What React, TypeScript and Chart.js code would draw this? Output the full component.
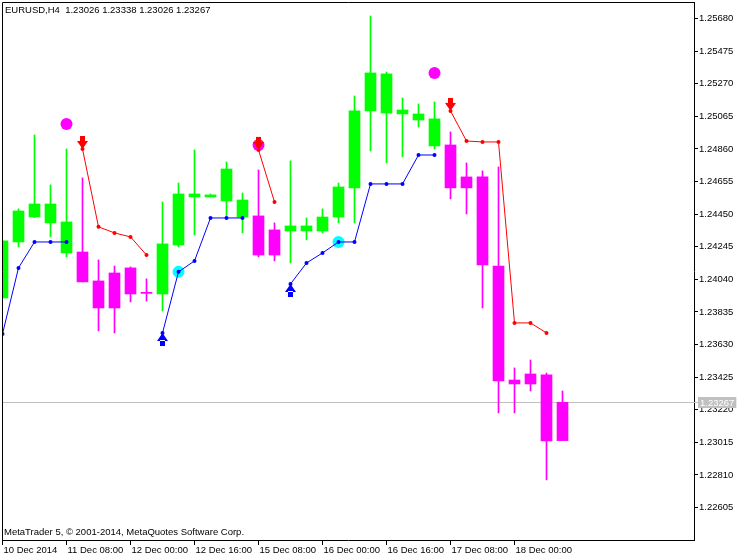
import React, { useEffect, useRef } from 'react';
import { Chart, registerables } from 'chart.js';

Chart.register(...registerables);

// ---------------- data ----------------
const categories = [
  '10 Dec 16:00', '10 Dec 20:00', '11 Dec 00:00', '11 Dec 04:00', '11 Dec 08:00', '11 Dec 12:00',
  '11 Dec 16:00', '11 Dec 20:00', '12 Dec 00:00', '12 Dec 04:00', '12 Dec 08:00', '12 Dec 12:00',
  '12 Dec 16:00', '12 Dec 20:00', '15 Dec 00:00', '15 Dec 04:00', '15 Dec 08:00', '15 Dec 12:00',
  '15 Dec 16:00', '15 Dec 20:00', '16 Dec 00:00', '16 Dec 04:00', '16 Dec 08:00', '16 Dec 12:00',
  '16 Dec 16:00', '16 Dec 20:00', '17 Dec 00:00', '17 Dec 04:00', '17 Dec 08:00', '17 Dec 12:00',
  '17 Dec 16:00', '17 Dec 20:00', '18 Dec 00:00', '18 Dec 04:00', '18 Dec 08:00', '18 Dec 12:00',
];

const opens = [
  1.23923, 1.24275, 1.24432, 1.24395, 1.24206, 1.24212, 1.24030, 1.24080, 1.24112, 1.23956,
  1.23948, 1.24256, 1.24558, 1.24558, 1.24533, 1.24432, 1.24439, 1.24351, 1.24344, 1.24344,
  1.24344, 1.24432, 1.24615, 1.25099, 1.25086, 1.25080, 1.25042, 1.24879, 1.24885, 1.24684,
  1.24684, 1.24124, 1.23407, 1.23445, 1.23439, 1.23026,
];
const highs = [
  1.24282, 1.24483, 1.24948, 1.24634, 1.24860, 1.24678, 1.24162, 1.24124, 1.24118, 1.24043,
  1.24527, 1.24646, 1.24854, 1.24577, 1.24778, 1.24583, 1.24728, 1.24395, 1.24785, 1.24426,
  1.24483, 1.24646, 1.25193, 1.25696, 1.25344, 1.25181, 1.25143, 1.25156, 1.24967, 1.24772,
  1.24722, 1.24747, 1.23483, 1.23533, 1.23451, 1.23338,
];
const lows = [
  1.23923, 1.24244, 1.24428, 1.24307, 1.24181, 1.24024, 1.23716, 1.23703, 1.23898, 1.23904,
  1.23841, 1.24244, 1.24319, 1.24558, 1.24426, 1.24332, 1.24181, 1.24156, 1.24143, 1.24288,
  1.24332, 1.24395, 1.24395, 1.24847, 1.24772, 1.24810, 1.24998, 1.24860, 1.24546, 1.24451,
  1.23860, 1.23200, 1.23200, 1.23338, 1.22779, 1.23026,
];
const closes = [
  1.24282, 1.24470, 1.24514, 1.24514, 1.24401, 1.24024, 1.23860, 1.23860, 1.23948, 1.23952,
  1.24263, 1.24577, 1.24577, 1.24571, 1.24734, 1.24539, 1.24193, 1.24193, 1.24376, 1.24376,
  1.24432, 1.24621, 1.25099, 1.25338, 1.25332, 1.25105, 1.25080, 1.25049, 1.24615, 1.24615,
  1.24131, 1.23401, 1.23382, 1.23382, 1.23024, 1.23267,
];
const trend = [
  'up', 'up', 'up', 'up', 'up', 'down', 'down', 'down', 'down', 'down',
  'up', 'up', 'up', 'up', 'up', 'up', 'down', 'down', 'up', 'up',
  'up', 'up', 'up', 'up', 'up', 'up', 'up', 'up', 'down', 'down',
  'down', 'down', 'down', 'down', 'down', 'down',
];

const N = null;
const supportLine = [
  1.23697, 1.24112, 1.24275, 1.24275, 1.24275, N, N, N, N, N,
  1.23703, 1.24087, 1.24156, 1.24426, 1.24426, 1.24426, N, N, 1.24011, 1.24143,
  1.24206, 1.24275, 1.24275, 1.24640, 1.24640, 1.24640, 1.24822, 1.24822, N, N,
  N, N, N, N, N, N,
];
const resistanceLine = [
  N, N, N, N, N, 1.24860, 1.24370, 1.24332, 1.24307, 1.24193,
  N, N, N, N, N, N, 1.24854, 1.24527, N, N,
  N, N, N, N, N, N, N, N, 1.25099, 1.24910,
  1.24904, 1.24904, 1.23766, 1.23766, 1.23703, N,
];
const buySignals = [
  N, N, N, N, N, N, N, N, N, N,
  1.23703, N, N, N, N, N, N, N, 1.24011, N,
  N, N, N, N, N, N, N, N, N, N,
  N, N, N, N, N, N,
];
const sellSignals = [
  N, N, N, N, N, 1.24860, N, N, N, N,
  N, N, N, N, N, N, 1.24854, N, N, N,
  N, N, N, N, N, N, N, N, 1.25099, N,
  N, N, N, N, N, N,
];
const peakMarks = [
  N, N, N, N, 1.25017, N, N, N, N, N,
  N, N, N, N, N, N, 1.24885, N, N, N,
  N, N, N, N, N, N, N, 1.25338, N, N,
  N, N, N, N, N, N,
];
const pullbackMarks = [
  N, N, N, N, N, N, N, N, N, N,
  N, 1.24087, N, N, N, N, N, N, N, N,
  N, 1.24275, N, N, N, N, N, N, N, N,
  N, N, N, N, N, N,
];

const yTickValues = [
  1.22605, 1.22810, 1.23015, 1.23220, 1.23425, 1.23630, 1.23835, 1.24040,
  1.24245, 1.24450, 1.24655, 1.24860, 1.25065, 1.25270, 1.25475, 1.25680,
];
const xTickIndices = [0, 4, 8, 12, 16, 20, 24, 28, 32];
const firstTickLabel = '10 Dec 2014';
const headerText = 'EURUSD,H4  1.23026 1.23338 1.23026 1.23267';
const footerText = 'MetaTrader 5, \u00A9 2001-2014, MetaQuotes Software Corp.';
const lastPrice = 1.23267;

// ---------------- styling ----------------
const FONT_FAMILY = '"Liberation Sans", Arial, sans-serif';
const FONT_SIZE = 9.5;
const UP_COLOR = '#00FF00';
const DOWN_COLOR = '#FF00FF';

function makeArrow(color: string, dir: 'up' | 'down'): HTMLCanvasElement {
  const c = document.createElement('canvas');
  c.width = 11;
  c.height = 30;
  const g = c.getContext('2d')!;
  g.fillStyle = color;
  const t = 15;
  g.beginPath();
  if (dir === 'down') {
    g.rect(3, t - 13, 5, 6);
    g.moveTo(0, t - 8);
    g.lineTo(11, t - 8);
    g.lineTo(5.5, t);
    g.closePath();
  } else {
    g.rect(3, t + 7, 5, 6);
    g.moveTo(0, t + 8);
    g.lineTo(11, t + 8);
    g.lineTo(5.5, t);
    g.closePath();
  }
  g.fill();
  return c;
}

const overlayPlugin = {
  id: 'mtOverlay',
  beforeDatasetsDraw(chart: any) {
    const { ctx, chartArea } = chart;
    const y = Math.round(chart.scales.y.getPixelForValue(lastPrice)) + 0.5;
    ctx.save();
    ctx.strokeStyle = '#C0C0C0';
    ctx.lineWidth = 1;
    ctx.beginPath();
    ctx.moveTo(chartArea.left, y);
    ctx.lineTo(chartArea.right + 4, y);
    ctx.stroke();
    ctx.restore();
  },
  afterDraw(chart: any) {
    const { ctx, chartArea } = chart;
    ctx.save();
    // frame (left and top edges)
    ctx.strokeStyle = '#000';
    ctx.lineWidth = 1;
    ctx.beginPath();
    ctx.moveTo(chartArea.left + 0.5, chartArea.bottom);
    ctx.lineTo(chartArea.left + 0.5, chartArea.top + 0.5);
    ctx.lineTo(chartArea.right + 1, chartArea.top + 0.5);
    ctx.stroke();
    // texts
    ctx.font = `${FONT_SIZE}px ${FONT_FAMILY}`;
    ctx.fillStyle = '#000';
    ctx.textBaseline = 'alphabetic';
    ctx.textAlign = 'left';
    ctx.fillText(headerText, 5, 13);
    ctx.fillText(footerText, 4, 535);
    // last price label
    const y = Math.round(chart.scales.y.getPixelForValue(lastPrice));
    const label = lastPrice.toFixed(5);
    const w = ctx.measureText(label).width;
    ctx.fillStyle = '#C0C0C0';
    ctx.fillRect(chartArea.right + 4, y - 5, w + 4, 11);
    ctx.fillStyle = '#FFFFFF';
    ctx.textBaseline = 'middle';
    ctx.fillText(label, chartArea.right + 6, y + 1);
    ctx.restore();
  },
};

function zeroPadding(s: any) {
  s.paddingLeft = 0;
  s.paddingRight = 0;
  s.paddingTop = 0;
  s.paddingBottom = 0;
}

export default function App() {
  const ref = useRef<HTMLCanvasElement>(null);

  useEffect(() => {
    const canvas = ref.current!;
    const upArrow = makeArrow('#0000FF', 'up');
    const downArrow = makeArrow('#FF0000', 'down');
    const idx = categories.map((_, i) => i);
    const pts = (arr: (number | null)[]) => arr.map((v, i) => ({ x: i, y: v }));
    const colors = trend.map((t) => (t === 'up' ? UP_COLOR : DOWN_COLOR));
    const font = { family: FONT_FAMILY, size: FONT_SIZE };

    const chart = new Chart(canvas, {
      type: 'bar',
      data: {
        datasets: [
          {
            type: 'bar',
            label: 'wicks',
            data: idx.map((i) => ({ x: i, y: [lows[i], highs[i]] })),
            backgroundColor: colors,
            barThickness: 1,
            grouped: false,
            borderWidth: 0,
            order: 20,
          } as any,
          {
            type: 'bar',
            label: 'bodies',
            data: idx.map((i) => ({ x: i, y: [opens[i], closes[i]] })),
            backgroundColor: colors,
            barThickness: 11,
            grouped: false,
            minBarLength: 1,
            borderWidth: 0,
            order: 19,
          } as any,
          {
            type: 'line',
            label: 'peaks',
            data: pts(peakMarks),
            showLine: false,
            pointRadius: 6,
            pointBackgroundColor: '#FF00FF',
            pointBorderWidth: 0,
            order: 10,
          },
          {
            type: 'line',
            label: 'pullbacks',
            data: pts(pullbackMarks),
            showLine: false,
            pointRadius: 6,
            pointBackgroundColor: '#00FFFF',
            pointBorderWidth: 0,
            order: 9,
          },
          {
            type: 'line',
            label: 'support',
            data: pts(supportLine),
            borderColor: '#0000FF',
            borderWidth: 1,
            pointRadius: 2,
            pointBackgroundColor: '#0000FF',
            pointBorderWidth: 0,
            spanGaps: false,
            order: 5,
          },
          {
            type: 'line',
            label: 'resistance',
            data: pts(resistanceLine),
            borderColor: '#FF0000',
            borderWidth: 1,
            pointRadius: 2,
            pointBackgroundColor: '#FF0000',
            pointBorderWidth: 0,
            spanGaps: false,
            order: 5,
          },
          {
            type: 'line',
            label: 'buy',
            data: pts(buySignals),
            showLine: false,
            pointStyle: upArrow,
            pointRadius: 3,
            order: 1,
          },
          {
            type: 'line',
            label: 'sell',
            data: pts(sellSignals),
            showLine: false,
            pointStyle: downArrow,
            pointRadius: 3,
            order: 1,
          },
        ] as any,
      },
      options: {
        responsive: false,
        maintainAspectRatio: false,
        animation: false,
        devicePixelRatio: 1,
        events: [],
        layout: { autoPadding: false, padding: { left: 2, top: 2, right: 0, bottom: 0 } },
        plugins: { legend: { display: false }, tooltip: { enabled: false } },
        scales: {
          x: {
            type: 'linear',
            position: 'bottom',
            min: -0.03125,
            max: 43.21875,
            offset: false,
            grid: { display: true, drawOnChartArea: false, drawTicks: true, tickLength: 5, color: '#000', offset: false },
            border: { display: true, color: '#000' },
            ticks: {
              autoSkip: false,
              maxRotation: 0,
              minRotation: 0,
              align: 'start',
              labelOffset: 1,
              padding: 0,
              color: '#000',
              font,
              callback: (v: any) => (Number(v) === 0 ? firstTickLabel : categories[Number(v)]),
            },
            afterBuildTicks: (s: any) => {
              s.ticks = xTickIndices.map((v) => ({ value: v }));
            },
            afterFit: (s: any) => {
              s.height = 20;
              zeroPadding(s);
            },
          },
          y: {
            type: 'linear',
            position: 'right',
            min: 1.22401,
            max: 1.25784,
            beginAtZero: false,
            grid: { display: true, drawOnChartArea: false, drawTicks: true, tickLength: 4, color: '#000' },
            border: { display: true, color: '#000' },
            ticks: {
              padding: 1,
              color: '#000',
              font,
              callback: (v: any) => Number(v).toFixed(5),
            },
            afterBuildTicks: (s: any) => {
              s.ticks = yTickValues.map((v) => ({ value: v }));
            },
            afterFit: (s: any) => {
              s.width = 56;
              zeroPadding(s);
            },
          },
        } as any,
      },
      plugins: [overlayPlugin],
    });
    return () => chart.destroy();
  }, []);

  return (
    <div style={{ position: 'fixed', left: 0, top: 0, width: 750, height: 560, background: '#fff' }}>
      <canvas ref={ref} width={750} height={560} style={{ display: 'block' }} />
    </div>
  );
}
